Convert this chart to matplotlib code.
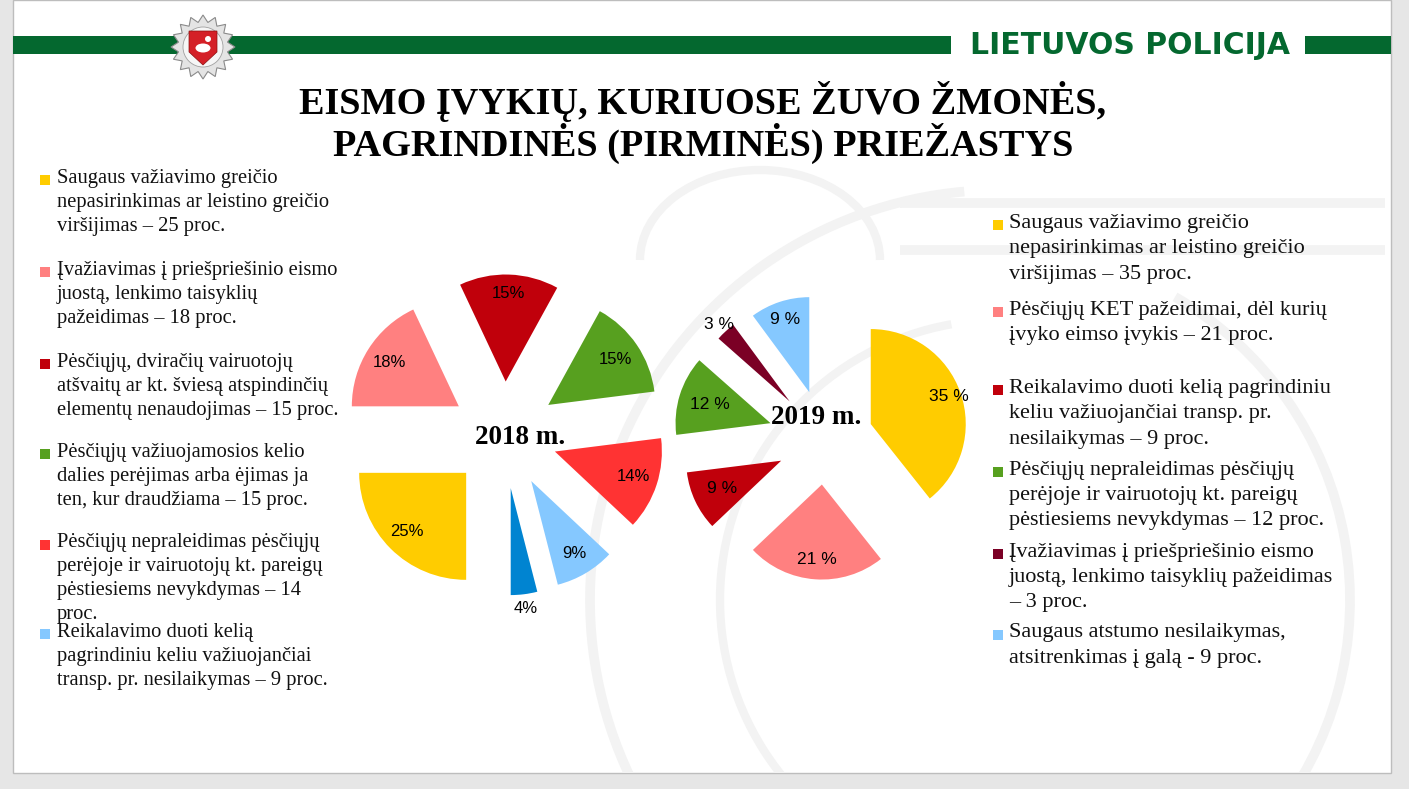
import numpy as np
import matplotlib.pyplot as plt
from matplotlib.patches import Rectangle, Polygon, Circle, Ellipse, Arc

W, H = 1409, 789

# ---- data ----
title_lines = ["EISMO ĮVYKIŲ, KURIUOSE ŽUVO ŽMONĖS,",
               "PAGRINDINĖS (PIRMINĖS) PRIEŽASTYS"]

# 2018: wedges counterclockwise from 9 o'clock
shares_2018 = [25, 4, 9, 14, 15, 15, 18]
colors_2018 = ["#FFCC00", "#0084D1", "#85C8FF", "#FF3333", "#57A01F", "#C0000B", "#FF8080"]
pct_dist_2018 = [0.78, 1.13, 0.79, 0.77, 0.76, 0.82, 0.77]

legend_2018 = [
    "Saugaus važiavimo greičio\nnepasirinkimas ar leistino greičio\nviršijimas – 25 proc.",
    "Įvažiavimas į priešpriešinio eismo\njuostą, lenkimo taisyklių\npažeidimas – 18 proc.",
    "Pėsčiųjų, dviračių vairuotojų\natšvaitų ar kt. šviesą atspindinčių\nelementų nenaudojimas – 15 proc.",
    "Pėsčiųjų važiuojamosios kelio\ndalies perėjimas arba ėjimas ja\nten, kur draudžiama – 15 proc.",
    "Pėsčiųjų nepraleidimas pėsčiųjų\nperėjoje ir vairuotojų kt. pareigų\npėstiesiems nevykdymas – 14\nproc.",
    "Reikalavimo duoti kelią\npagrindiniu keliu važiuojančiai\ntransp. pr. nesilaikymas – 9 proc.",
]
legend_colors_2018 = ["#FFCC00", "#FF8080", "#C0000B", "#57A01F", "#FF3333", "#85C8FF"]
legend_y_2018 = [178, 270, 362, 452, 543, 632]

# 2019: wedges clockwise from 12 o'clock (other causes left out)
shares_2019 = [35, 21, 9, 12, 3, 9]
colors_2019 = ["#FFCC00", "#FF8080", "#C0000B", "#57A01F", "#7B0025", "#85C8FF"]
explode_2019 = [0.51, 0.47, 0.51, 0.60, 0.55, 0.53]
pct_dist_2019 = [0.87, 0.79, 0.69, 0.67, 1.10, 0.80]

legend_2019 = [
    "Saugaus važiavimo greičio\nnepasirinkimas ar leistino greičio\nviršijimas – 35 proc.",
    "Pėsčiųjų KET pažeidimai, dėl kurių\nįvyko eimso įvykis – 21 proc.",
    "Reikalavimo duoti kelią pagrindiniu\nkeliu važiuojančiai transp. pr.\nnesilaikymas – 9 proc.",
    "Pėsčiųjų nepraleidimas pėsčiųjų\nperėjoje ir vairuotojų kt. pareigų\npėstiesiems nevykdymas – 12 proc.",
    "Įvažiavimas į priešpriešinio eismo\njuostą, lenkimo taisyklių pažeidimas\n– 3 proc.",
    "Saugaus atstumo nesilaikymas,\natsitrenkimas į galą - 9 proc.",
]
legend_y_2019 = [223, 310, 388, 470, 552, 633]

GREEN = "#04682F"
SERIF = "Liberation Serif"
FAINT = "#F3F3F3"


def fy(y):
    # picture rows -> axis units (y up)
    return H - y


def place_pcts(wedges, texts, dists):
    for w, t, d in zip(wedges, texts, dists):
        ang = np.deg2rad((w.theta1 + w.theta2) / 2)
        cx, cy = w.center
        t.set_position((cx + d * w.r * np.cos(ang), cy + d * w.r * np.sin(ang)))
        t.set_ha("center")
        t.set_va("center")


def draw_legend(x_box, x_txt, ys, labels, colors, size, step):
    for y0, lab, c in zip(ys, labels, colors):
        ax.add_patch(Rectangle((x_box, fy(y0) - 7), 10, 10, color=c, lw=0, zorder=2))
        for j, line in enumerate(lab.split("\n")):
            ax.text(x_txt, fy(y0 + j * step), line, family=SERIF,
                    fontsize=size, va="center", ha="left", color="#111111")


fig = plt.figure(figsize=(W / 100, H / 100), dpi=100)
fig.patch.set_facecolor("#E6E6E6")
ax = fig.add_axes([0, 0, 1, 1])

# slide
slide = Rectangle((12.5, fy(773)), 1378.5, 773, facecolor="white",
                  edgecolor="#BDBDBD", lw=1, zorder=0)
ax.add_patch(slide)

# faint background emblem (rough), kept inside the slide
deco = []
for yb in (203, 250):
    deco += ax.plot([900, 1385], [fy(yb), fy(yb)], color=FAINT, lw=7, zorder=0.5,
                    solid_capstyle="butt")
for (cx, cy, d, t1, t2, lw) in [(1000, 600, 820, 95, 215, 7),
                                (1000, 600, 700, -40, 60, 7),
                                (1000, 600, 560, 100, 250, 6),
                                (760, 260, 240, 0, 180, 6)]:
    a = Arc((cx, fy(cy)), d, d if d != 240 else 180, theta1=t1, theta2=t2,
            color=FAINT, lw=lw, zorder=0.5)
    ax.add_patch(a)
    deco.append(a)
for artist in deco:
    artist.set_clip_path(slide)

# header bars
ax.add_patch(Rectangle((12.5, fy(54)), 938, 18.5, color=GREEN, lw=0))
ax.add_patch(Rectangle((1305, fy(54)), 85.5, 18.5, color=GREEN, lw=0))
ax.text(1130, fy(45), "LIETUVOS POLICIJA", family="DejaVu Sans", weight="bold",
        fontsize=21.5, color=GREEN, ha="center", va="center")

# police emblem
ang = np.linspace(0, 2 * np.pi, 33)[:-1] + np.pi / 2
rad = np.where(np.arange(32) % 2 == 0, 32, 25)
star = np.column_stack([203 + rad * np.cos(ang), fy(47) + rad * np.sin(ang)])
ax.add_patch(Polygon(star, closed=True, facecolor="#E4E4E4", edgecolor="#8A8A8A", lw=0.8))
ax.add_patch(Circle((203, fy(47)), 20, facecolor="#F6F6F6", edgecolor="#A0A0A0", lw=0.6))
shield = [(189, fy(31)), (217, fy(31)), (217, fy(52)), (203, fy(65)), (189, fy(52))]
ax.add_patch(Polygon(shield, closed=True, facecolor="#D42027", edgecolor="#8A1010", lw=0.5))
ax.add_patch(Ellipse((203, fy(48)), 15, 9, facecolor="white", lw=0))
ax.add_patch(Circle((208, fy(39)), 3, facecolor="white", lw=0))

# title
for i, line in enumerate(title_lines):
    ax.text(703, fy(101 + 42 * i), line, family=SERIF, weight="bold",
            fontsize=27.5, ha="center", va="center", color="black")

# pie 2018
r18 = 107
w18, t18, p18 = ax.pie(shares_2018, colors=colors_2018, startangle=180,
                       counterclock=True, center=(504, fy(435)), radius=r18,
                       explode=[0.5 * r18] * len(shares_2018),
                       autopct="%.0f%%", wedgeprops=dict(linewidth=0),
                       textprops=dict(family="Liberation Sans", fontsize=12))
place_pcts(w18, p18, pct_dist_2018)
ax.text(520, fy(437), "2018 m.", family=SERIF, weight="bold", fontsize=19.5,
        ha="center", va="center")

# pie 2019
r19 = 95
tot19 = sum(shares_2019)
w19, t19, p19 = ax.pie(shares_2019, colors=colors_2019, startangle=90,
                       counterclock=False, center=(825, fy(440)), radius=r19,
                       explode=[e * r19 for e in explode_2019],
                       autopct=lambda p: f"{p * tot19 / 100:.0f} %",
                       wedgeprops=dict(linewidth=0),
                       textprops=dict(family="Liberation Sans", fontsize=12.5))
place_pcts(w19, p19, pct_dist_2019)
ax.text(816, fy(417), "2019 m.", family=SERIF, weight="bold", fontsize=19.5,
        ha="center", va="center", zorder=5)

# legends
draw_legend(40, 57, legend_y_2018, legend_2018, legend_colors_2018, 14.8, 24)
draw_legend(993, 1009, legend_y_2019, legend_2019, colors_2019, 16, 25.5)

ax.set_xlim(0, W)
ax.set_ylim(0, H)
ax.set_aspect("equal")
ax.set_axis_off()

fig.savefig("out.png", dpi=100, facecolor=fig.get_facecolor())
